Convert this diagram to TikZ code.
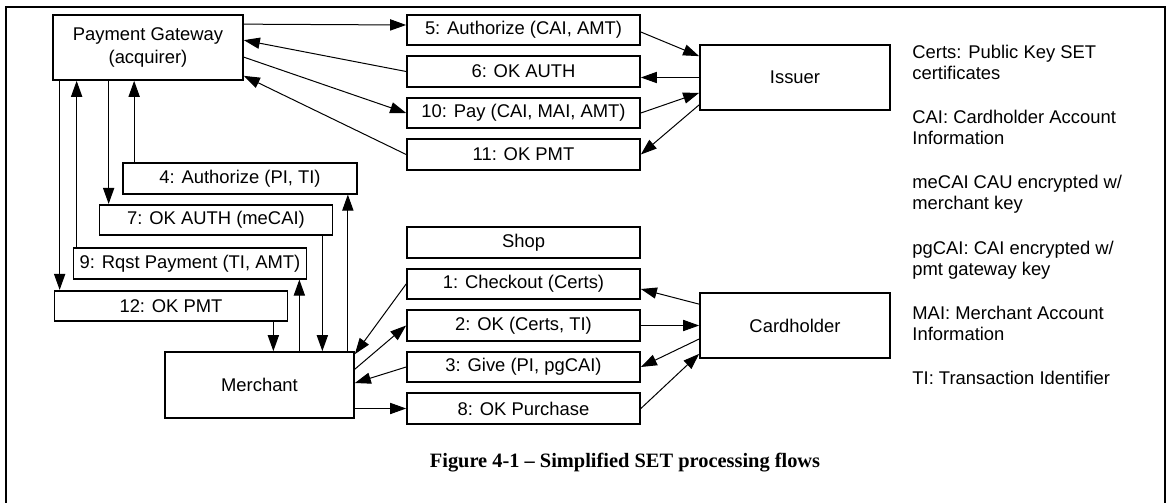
\documentclass[tikz,border=0pt]{standalone}
\usepackage{fontspec}
\setmainfont{Liberation Sans}
\newfontfamily\captionfont{Liberation Serif}
\usetikzlibrary{
  arrows.meta,
  positioning,
  calc
}

\begin{document}
\begin{tikzpicture}[
      x=0.5pt,y=-0.5pt,
      msg/.style={
         rectangle,
         draw=black,
         line width=0.85pt,
         inner sep=0pt,
         minimum width=116.5pt,
         minimum height=15.25pt,
         font=\fontsize{9.2}{11}\selectfont
      },
      party/.style={
         msg,
         minimum width=95pt,
         minimum height=32.5pt,
         align=center,
         font=\fontsize{9.2}{11.5}\selectfont
      },
      note/.style={
         anchor=north west,
         inner sep=0pt,
         align=left,
         font=\fontsize{9.2}{10.5}\selectfont
      },
      >={Triangle[length=8pt,width=5.6pt]},
      tip/.style={->,line width=0.5pt},
      node distance=4.65pt
    ]
    \useasboundingbox (0,0) rectangle (1168,503);
    % frame, open at the bottom
    \draw[line width=1pt] (6,510) -- (6,7) -- (1165,7) -- (1165,510);

    \node (pg) [party] at (148,47.5) {Payment Gateway\\(acquirer)};
    \node (issuer) [party] at (795,77.5) {Issuer};
    \node (holder) [party] at (795,325.5) {Cardholder};
    \node (merchant) [party, minimum width=94.5pt, minimum height=33pt] at (259.5,385) {Merchant};

    \node (m5) [msg] at (523.5,30) {5: Authorize (CAI, AMT)};
    \node (m6) [msg, below=of m5] {6: OK AUTH};
    \node (m10) [msg, below=of m6] {10: Pay (CAI, MAI, AMT)};
    \node (m11) [msg, below=of m10] {11: OK PMT};

    \node (shop) [msg] at (523.5,242.5) {Shop};
    \node (m1) [msg, below=of shop] {1: Checkout (Certs)};
    \node (m2) [msg, below=of m1] {2: OK (Certs, TI)};
    \node (m3) [msg, below=of m2] {3: Give (PI, pgCAI)};
    \node (m8) [msg, below=of m3] {8: OK Purchase};

    \node (m4) [msg, minimum width=117pt] at (240,178.5) {4: Authorize (PI, TI)};
    \node (m7) [msg] at (216,220) {7: OK AUTH (meCAI)};
    \node (m9) [msg] at (190,263.5) {9: Rqst Payment (TI, AMT)};
    \node (m12) [msg] at (171,306) {12: OK PMT};

    % legend
    \node (certs) [note] at (912,45) {Certs: Public Key SET\\certificates};
    \node (cai) [note] at (912,110) {CAI: Cardholder Account\\Information};
    \node (mecai) [note] at (912,175) {meCAI CAU encrypted w/\\merchant key};
    \node (pgcai) [note] at (912,241) {pgCAI: CAI encrypted w/\\pmt gateway key};
    \node (mai) [note] at (912,306) {MAI: Merchant Account\\Information};
    \node (ti) [note] at (912,371) {TI: Transaction Identifier};

    \node (caption) at (625,463) {\captionfont\bfseries\fontsize{10.2}{12}\selectfont Figure 4-1 – Simplified SET processing flows};

    % gateway and issuer
    \draw[tip] ($(pg.north east)+(0,10)$) -- ($(m5.west)+(0,-5)$);
    \draw[tip] (m6.west) -- ($(pg.north east)+(0,26)$);
    \draw[tip] ($(pg.north east)+(0,43)$) -- (m10.west);
    \draw[tip] (m11.west) -- ($(pg.south east)+(0,-5)$);
    \draw[tip] ($(m5.east)+(0,2)$) -- ($(issuer.north west)+(0,12)$);
    \draw[tip] (issuer.west) -- (issuer.west -| m6.east);
    \draw[tip] (m10.east) -- ($(issuer.south west)+(0,-18)$);
    \draw[tip] ($(issuer.south west)+(0,-6)$) -- (m11.east);

    % cardholder and merchant
    \draw[tip] ($(holder.north west)+(0,12)$) -- ($(m1.east)+(0,5)$);
    \draw[tip] (m2.east) -- (m2.east -| holder.west);
    \draw[tip] ($(holder.west)+(0,13.5)$) -- (m3.east);
    \draw[tip] (m8.east) -- ($(holder.south west)+(0,-5)$);
    \draw[tip] (m1.west) -- ($(merchant.north east)+(0,3)$);
    \draw[tip] ($(merchant.north east)+(0,18)$) -- (m2.west);
    \draw[tip] (m3.west) -- ($(merchant.east)+(0,-2)$);
    \draw[tip] (m8.west -| merchant.east) -- (m8.west);

    % merchant and gateway
    \coordinate (x12) at ($(m12.south east)+(-15,0)$);
    \coordinate (x9) at ($(m9.south east)+(-8,0)$);
    \coordinate (x7) at ($(m7.south east)+(-11,0)$);
    \coordinate (x4) at ($(m4.south east)+(-10,0)$);
    \draw[tip] (x12) -- (x12 |- merchant.north);
    \draw[tip] (x9 |- merchant.north) -- (x9);
    \draw[tip] (x7) -- (x7 |- merchant.north);
    \draw[tip] (x4 |- merchant.north) -- (x4);
    \coordinate (y12) at ($(m12.north west)+(6,0)$);
    \coordinate (y9) at ($(m9.north west)+(4,0)$);
    \coordinate (y7) at ($(m7.north west)+(10,0)$);
    \coordinate (y4) at ($(m4.north west)+(12,0)$);
    \draw[tip] (y12 |- pg.south) -- (y12);
    \draw[tip] (y9) -- (y9 |- pg.south);
    \draw[tip] (y7 |- pg.south) -- (y7);
    \draw[tip] (y4) -- (y4 |- pg.south);
\end{tikzpicture}
\end{document}
